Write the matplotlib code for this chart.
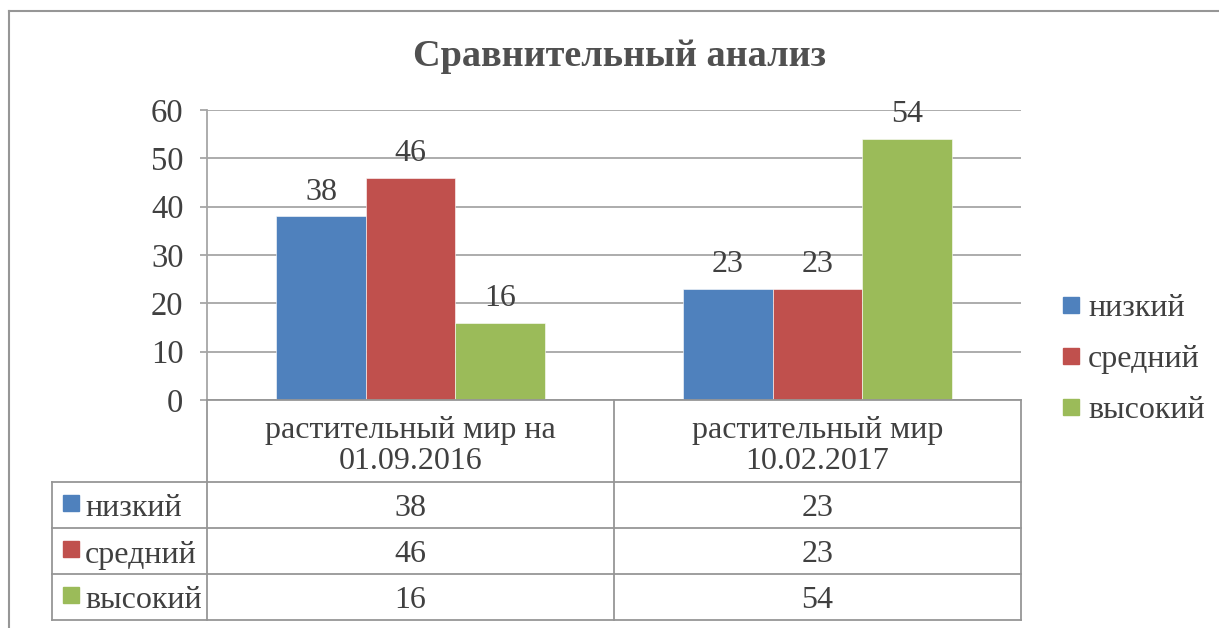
import matplotlib
matplotlib.use("Agg")
import matplotlib.pyplot as plt
from matplotlib.patches import Rectangle
from matplotlib.lines import Line2D
import numpy as np

plt.rcParams['font.family'] = 'serif'
plt.rcParams['font.serif'] = ['Liberation Serif', 'DejaVu Serif']
FAM = "Liberation Serif"

title = "Сравнительный анализ"
categories = ["растительный мир на\n01.09.2016", "растительный мир\n10.02.2017"]
series_names = ["низкий", "средний", "высокий"]
values_low = [38, 23]
values_mid = [46, 23]
values_high = [16, 54]
series_values = [values_low, values_mid, values_high]
colors = ["#4F81BD", "#C0504D", "#9BBB59"]
yticks = [0, 10, 20, 30, 40, 50, 60]

TXT = "#404040"
GRID = "#A6A6A6"
BORDER = "#969696"
FS = 23

W, H = 1219, 628
fig = plt.figure(figsize=(W / 100, H / 100), dpi=100)

def fx(px):
    return px / W

def fy(py):
    return 1 - py / H

# plot area in pixels
L, R, T, B = 207, 1021, 110, 400
ax = fig.add_axes([fx(L), fy(B), fx(R) - fx(L), fy(T) - fy(B)])

n = len(categories)
x = np.arange(n)
bw = 0.22
for i, (name, vals, c) in enumerate(zip(series_names, series_values, colors)):
    pos = x + (i - 1) * bw
    bars = ax.bar(pos, vals, width=bw, color=c, edgecolor="white", linewidth=0.4,
                  label=name, zorder=3)
    for b, v in zip(bars, vals):
        ax.annotate(str(v), (b.get_x() + b.get_width() / 2, v), xytext=(0, 7),
                    textcoords="offset points", ha="center", va="bottom",
                    fontsize=FS, color=TXT, family=FAM)

ax.set_xlim(-0.5, n - 0.5)
ax.set_ylim(0, 60)
ax.set_yticks(yticks)
ax.set_yticklabels([str(t) for t in yticks], fontsize=FS + 0.5, color=TXT, family=FAM)
ax.tick_params(axis="y", length=5, width=1.3, color=GRID, pad=12)
ax.set_xticks([])
ax.grid(axis="y", color=GRID, linewidth=1.3, zorder=0)
for s in ["top", "right", "bottom"]:
    ax.spines[s].set_visible(False)
ax.spines["left"].set_color(GRID)
ax.spines["left"].set_linewidth(1.3)

# title
fig.text(fx(619), fy(57), title, ha="center", va="center", fontsize=27.5,
         fontweight="bold", color="#505050", family=FAM)

# outer border
fig.add_artist(Line2D([fx(9), fx(W)], [fy(11), fy(11)], color=BORDER, lw=1.5))
fig.add_artist(Line2D([fx(9), fx(9)], [fy(11), fy(H)], color=BORDER, lw=1.5))

# data table
col_edges = [L, 614, R]
row_edges = [B, 482, 528, 574, 620]
tl = dict(color=BORDER, lw=1.3)
for xe in col_edges:
    fig.add_artist(Line2D([fx(xe), fx(xe)], [fy(row_edges[0]), fy(row_edges[-1])], **tl))
fig.add_artist(Line2D([fx(52), fx(52)], [fy(row_edges[1]), fy(row_edges[-1])], **tl))
fig.add_artist(Line2D([fx(L), fx(R)], [fy(B), fy(B)], **tl))
for ye in row_edges[1:]:
    fig.add_artist(Line2D([fx(52), fx(R)], [fy(ye), fy(ye)], **tl))

for j, cat in enumerate(categories):
    cx = (col_edges[j] + col_edges[j + 1]) / 2
    fig.text(fx(cx), fy((row_edges[0] + row_edges[1]) / 2 + 5), cat, ha="center",
             va="center", fontsize=FS, color=TXT, linespacing=1.05, family=FAM)
    for i, vals in enumerate(series_values):
        cy = (row_edges[i + 1] + row_edges[i + 2]) / 2
        fig.text(fx(cx), fy(cy + 4), str(vals[j]), ha="center", va="center",
                 fontsize=FS, color=TXT, family=FAM)

for i, (name, c) in enumerate(zip(series_names, colors)):
    cy = (row_edges[i + 1] + row_edges[i + 2]) / 2
    fig.add_artist(Rectangle((fx(63), fy(cy + 6)), fx(16), 16 / H, color=c,
                             transform=fig.transFigure))
    fig.text(fx(85), fy(cy + 4), name, ha="left", va="center", fontsize=FS,
             color=TXT, family=FAM)

# legend on the right
leg_y = [305, 356, 407]
for name, c, ly in zip(series_names, colors, leg_y):
    fig.add_artist(Rectangle((fx(1063), fy(ly + 8)), fx(16), 16 / H, color=c,
                             transform=fig.transFigure))
    fig.text(fx(1088), fy(ly + 3), name, ha="left", va="center", fontsize=FS,
             color=TXT, family=FAM)

fig.savefig("out.png", dpi=100)
